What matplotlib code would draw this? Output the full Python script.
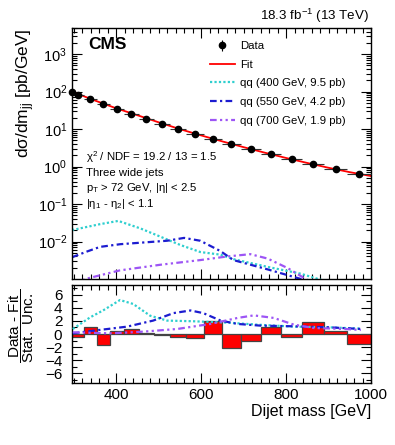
import matplotlib
matplotlib.use("Agg")
import matplotlib.pyplot as plt
import numpy as np
from matplotlib.ticker import MultipleLocator, LogLocator, NullFormatter
from matplotlib.lines import Line2D

plt.rcParams['font.family'] = ['Liberation Sans', 'DejaVu Sans']
plt.rcParams['mathtext.fontset'] = 'custom'
plt.rcParams['mathtext.rm'] = 'Liberation Sans'
plt.rcParams['mathtext.it'] = 'Liberation Sans:italic'
plt.rcParams['mathtext.default'] = 'regular'

# ---------------- data ----------------
data_mass = [296, 310.5, 339.5, 370, 402.5, 436, 471, 507.5, 545.5, 585.5,
             627.5, 671, 716.5, 764, 813, 864, 917, 972]
data_halfwidth = [0, 14.5, 14.5, 16, 16.5, 17, 18, 18.5, 19.5, 20.5,
                  21.5, 22, 23.5, 24, 25, 26, 27, 28]
data_xsec = [98, 81.7, 62.5, 48, 34.8, 26, 18.9, 13.9, 10.3, 7.55,
             5.6, 3.95, 2.95, 2.17, 1.6, 1.14, 0.84, 0.62]

fit_mass = [296, 350, 400, 450, 500, 550, 600, 650, 700, 750, 800, 850, 900, 950, 1000]
fit_xsec = [100, 58, 36, 23.5, 15.2, 10.0, 6.8, 4.7, 3.3, 2.35, 1.7, 1.25, 0.93, 0.71, 0.56]

sig400_mass = [296, 327, 362, 405, 457, 504, 551, 598, 645, 676, 757, 835, 882, 920]
sig400_xsec = [0.0202, 0.0240, 0.0291, 0.0355, 0.0224, 0.0135, 0.0081, 0.00525,
               0.00447, 0.00339, 0.0021, 0.00138, 0.00095, 0.0007]
sig550_mass = [296, 331, 362, 410, 457, 520, 560, 598, 645, 676, 757, 835, 880]
sig550_xsec = [0.0038, 0.0054, 0.0072, 0.0085, 0.0093, 0.0105, 0.0125, 0.0105,
               0.0056, 0.0032, 0.0018, 0.0010, 0.0007]
sig700_mass = [300, 327, 409, 504, 598, 662, 716, 757, 804, 842, 870]
sig700_xsec = [0.0007, 0.0010, 0.0017, 0.0024, 0.0032, 0.0040, 0.0046, 0.0035,
               0.00195, 0.00107, 0.0007]

bin_edges = [296, 325, 354, 386, 419, 453, 489, 526, 565, 606, 649, 693, 740,
             788, 838, 890, 944, 1000]
pull = [-0.4, 1.1, -1.7, 0.4, 0.75, 0.1, -0.1, -0.4, -0.6, 2.0, -2.1, -1.1,
        1.0, -0.4, 1.8, 0.4, -1.5]

res400_mass = [298, 339, 369, 409, 440, 480, 520, 582, 662, 740, 818, 898, 976]
res400_val = [0.77, 2.56, 3.6, 5.2, 4.6, 2.8, 2.05, 1.95, 1.74, 1.4, 1.13, 1.03, 0.82]
res550_mass = [298, 346, 426, 487, 535, 575, 605, 646, 686, 740, 818, 898, 976]
res550_val = [0.1, 0.5, 1.13, 2.05, 3.2, 3.6, 3.2, 2.05, 1.54, 1.28, 1.18, 1.03, 0.77]
res700_mass = [298, 386, 464, 544, 622, 686, 724, 771, 818, 865, 936, 976]
res700_val = [0.26, 0.1, 0.36, 0.77, 1.54, 2.46, 2.85, 2.46, 1.44, 0.92, 0.77, 0.62]

labels = ["Data", "Fit", "qq (400 GeV, 9.5 pb)", "qq (550 GeV, 4.2 pb)",
          "qq (700 GeV, 1.9 pb)"]

# ---------------- styles ----------------
c400, c550, c700 = '#2fcfcf', '#1c1cd0', '#9d55f5'
ls400 = (0, (1, 1))
ls550 = (0, (3, 1.5, 1, 1.5))
ls700 = (0, (3, 1.5, 1, 1.5, 1, 1.5))

W, H = 395, 445
fig = plt.figure(figsize=(W / 100, H / 100), dpi=100)
L, R = 72, 371
ax = fig.add_axes([L / W, 1 - 279 / H, (R - L) / W, (279 - 28) / H])
axr = fig.add_axes([L / W, 1 - 383 / H, (R - L) / W, (383 - 285) / H])

# top panel
ax.plot(fit_mass, fit_xsec, color='red', lw=1.3, zorder=2)
ax.errorbar(data_mass, data_xsec, xerr=data_halfwidth, fmt='o', color='black',
            ms=4.5, lw=0.8, ecolor='#333333', capsize=0, zorder=3, clip_on=False)
ax.plot(sig400_mass, sig400_xsec, color=c400, lw=1.6, ls=ls400)
ax.plot(sig550_mass, sig550_xsec, color=c550, lw=1.6, ls=ls550)
ax.plot(sig700_mass, sig700_xsec, color=c700, lw=1.6, ls=ls700)

ax.set_yscale('log')
ax.set_xlim(296, 1000)
ax.set_ylim(1e-3, 5e3)
ax.yaxis.set_minor_locator(LogLocator(base=10, subs=np.arange(2, 10), numticks=20))
ax.yaxis.set_minor_formatter(NullFormatter())
ax.set_yticks([1e-2, 1e-1, 1e0, 1e1, 1e2, 1e3])
ax.set_yticklabels([r'$10^{-2}$', r'$10^{-1}$', r'$10^{0}$', r'$10^{1}$', r'$10^{2}$', r'$10^{3}$'])
ax.tick_params(axis='y', labelsize=10.5)
ax.xaxis.set_major_locator(MultipleLocator(200))
ax.xaxis.set_minor_locator(MultipleLocator(20))
ax.tick_params(axis='x', labelbottom=False)

for a in (ax, axr):
    a.tick_params(which='both', direction='in', top=True, right=True)
    a.tick_params(which='major', length=7, width=0.8)
    a.tick_params(which='minor', length=3.5, width=0.8)
    for s in a.spines.values():
        s.set_linewidth(1.0)

ax.set_ylabel(r'd$\sigma$/dm$_{jj}$ [pb/GeV]', fontsize=12.5)
ax.yaxis.set_label_coords(-0.155, 1.0)
ax.yaxis.label.set_verticalalignment('center')
ax.yaxis.label.set_horizontalalignment('right')

ax.text(0.055, 0.935, 'CMS', transform=ax.transAxes, fontsize=12.5,
        fontweight='bold', va='center', ha='left')
fig.text(369 / W, 1 - 16 / H, r'18.3 fb$^{-1}$ (13 TeV)', fontsize=9.6,
         ha='right', va='center')

info = [r'$\chi^{2}$ / NDF = 19.2 / 13 = 1.5', 'Three wide jets',
        r'p$_{T}$ > 72 GeV, |$\eta$| < 2.5', r'|$\eta_{1}$ - $\eta_{2}$| < 1.1']
ys = [157, 173, 188, 204]
for t, y in zip(info, ys):
    fig.text(86 / W, 1 - y / H, t, fontsize=8.2, ha='left', va='center')

eb = ax.errorbar([], [], yerr=[], fmt='o', color='black', ms=4.5, lw=0.8)
handles = [
    eb,
    Line2D([], [], color='red', lw=1.3),
    Line2D([], [], color=c400, lw=1.6, ls=ls400),
    Line2D([], [], color=c550, lw=1.6, ls=ls550),
    Line2D([], [], color=c700, lw=1.6, ls=ls700),
]
leg = ax.legend(handles, labels, loc='upper left', bbox_to_anchor=(0.445, 0.965),
                frameon=False, fontsize=8.2, handlelength=2.2, handletextpad=0.5,
                labelspacing=0.75, borderaxespad=0)

# residual panel
edges = np.array(bin_edges)
centers = 0.5 * (edges[:-1] + edges[1:])
widths = np.diff(edges)
axr.bar(centers, pull, width=widths, color='red', edgecolor='#444444',
        lw=0.9, zorder=2)
axr.plot(res400_mass, res400_val, color=c400, lw=1.6, ls=ls400, zorder=3)
axr.plot(res550_mass, res550_val, color=c550, lw=1.6, ls=ls550, zorder=3)
axr.plot(res700_mass, res700_val, color=c700, lw=1.6, ls=ls700, zorder=3)
axr.set_xlim(296, 1000)
axr.set_ylim(-7.5, 7.5)
axr.yaxis.set_minor_locator(MultipleLocator(1))
axr.xaxis.set_major_locator(MultipleLocator(200))
axr.xaxis.set_minor_locator(MultipleLocator(20))
axr.tick_params(axis='both', labelsize=11)
axr.tick_params(axis='y', pad=7)
axr.set_yticks([-6, -4, -2, 0, 2, 4, 6])
axr.set_yticklabels(['\u22126', '\u22124', '\u22122', '0', '2', '4', '6'])
axr.set_xlabel('Dijet mass [GeV]', fontsize=11.5)
axr.xaxis.set_label_coords(1.0, -0.21)
axr.xaxis.label.set_horizontalalignment('right')
axr.set_ylabel(r'$\dfrac{Data\ \text{-}\ Fit}{Stat.\ Unc.}$', fontsize=11)
axr.yaxis.set_label_coords(-0.17, 0.96)
axr.yaxis.label.set_verticalalignment('center')
axr.yaxis.label.set_horizontalalignment('right')

fig.savefig('out.png', dpi=100)
